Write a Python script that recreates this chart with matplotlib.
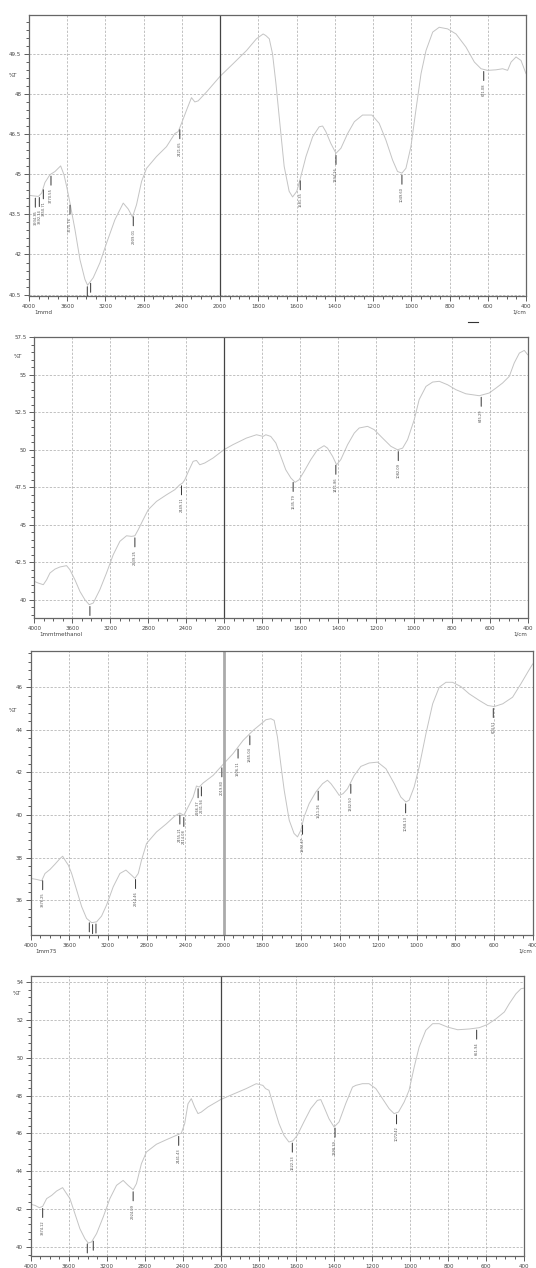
import matplotlib
matplotlib.use('Agg')
import matplotlib.pyplot as plt
from matplotlib.lines import Line2D
from matplotlib.ticker import FixedLocator, FuncFormatter
import numpy as np

# ---- spectrum 1 : 1mmd ----
wn1 = [4000, 3955, 3902, 3868, 3833, 3781, 3728, 3669, 3634, 3606, 3571, 3519, 3467, 3415, 3387,
       3328, 3258, 3188, 3101, 3014, 2962, 2917, 2875, 2822, 2770, 2666, 2561, 2474, 2439, 2404,
       2352, 2300, 2265, 2230, 2143, 2000, 1932, 1862, 1810, 1775, 1761, 1743, 1726, 1708, 1691,
       1665, 1639, 1621, 1599, 1578, 1551, 1516, 1482, 1464, 1447, 1421, 1394, 1368, 1333, 1298,
       1255, 1206, 1168, 1133, 1098, 1072, 1049, 1028, 1002, 976, 949, 923, 888, 854, 810,
       766, 714, 670, 635, 601, 557, 522, 496, 478, 452, 426, 400]
t1 = [44.21, 44.19, 44.17, 44.29, 44.69, 44.98, 45.10, 45.31, 44.98, 44.54, 43.92, 42.93, 41.81, 41.07, 40.85,
      41.13, 41.69, 42.43, 43.30, 43.92, 43.70, 43.40, 43.86, 44.73, 45.22, 45.66, 46.03, 46.52, 46.59, 46.90,
      47.39, 47.86, 47.70, 47.74, 48.07, 48.66, 49.13, 49.62, 50.06, 50.24, 50.18, 50.06, 49.50, 48.38, 47.14,
      45.29, 44.36, 44.15, 44.36, 44.91, 45.66, 46.40, 46.77, 46.80, 46.59, 46.15, 45.78, 45.97, 46.52, 46.96,
      47.21, 47.21, 46.90, 46.28, 45.53, 45.10, 45.04, 45.22, 46.03, 47.39, 48.76, 49.62, 50.31, 50.49, 50.43,
      50.24, 49.75, 49.19, 48.94, 48.88, 48.90, 48.94, 48.88, 49.19, 49.38, 49.25, 48.76]
pk1_wn = [3934, 3892, 3850, 3770, 3571, 3390, 3355, 2909, 2422, 1581, 1394, 1049, 621]
pk1_lbl = ['3934.35', '3892.14', '3850.71', '3770.55', '3570.76', '3390.42', '3355.10', '2909.01',
           '2421.65', '1581.35', '1394.16', '1049.60', '621.08']

# ---- spectrum 2 : 1mmtmethanol ----
wn2 = [4000, 3958, 3905, 3870, 3835, 3782, 3730, 3660, 3625, 3572, 3519, 3467, 3421, 3379, 3309,
       3239, 3168, 3098, 3028, 2975, 2940, 2905, 2853, 2800, 2712, 2607, 2519, 2467, 2438, 2414,
       2368, 2326, 2291, 2256, 2203, 2116, 2000, 1953, 1882, 1829, 1794, 1780, 1754, 1727, 1701,
       1675, 1648, 1626, 1605, 1578, 1543, 1508, 1473, 1455, 1428, 1407, 1385, 1349, 1314, 1288,
       1244, 1209, 1165, 1121, 1086, 1059, 1033, 998, 972, 936, 901, 866, 822, 778, 726,
       655, 603, 567, 532, 497, 471, 444, 418, 400]
t2 = [41.22, 41.11, 41.00, 41.33, 41.78, 42.04, 42.18, 42.27, 42.00, 41.33, 40.55, 40.00, 39.67, 39.78, 40.67,
      41.78, 43.00, 43.89, 44.26, 44.22, 44.26, 44.66, 45.33, 45.99, 46.55, 46.99, 47.33, 47.66, 47.77, 47.99,
      48.66, 49.22, 49.28, 48.99, 49.11, 49.44, 50.00, 50.33, 50.77, 50.99, 50.88, 50.99, 50.88, 50.44, 49.55,
      48.66, 48.11, 47.82, 47.99, 48.55, 49.33, 49.99, 50.26, 50.10, 49.55, 48.99, 49.33, 50.33, 51.10, 51.44,
      51.55, 51.33, 50.77, 50.22, 49.99, 50.10, 50.66, 51.99, 53.33, 54.21, 54.50, 54.55, 54.32, 53.99, 53.72,
      53.59, 53.77, 54.10, 54.44, 54.88, 55.77, 56.43, 56.61, 56.32]
pk2_wn = [3414, 2940, 2449, 1636, 1411, 1082, 645]
pk2_lbl = ['3414.38', '2939.25', '2449.11', '1635.79', '1411.86', '1082.09', '645.29']

# ---- spectrum 3 : 1mm75 ----
wn3 = [4000, 3938, 3886, 3852, 3800, 3748, 3697, 3669, 3645, 3610, 3576, 3524, 3472, 3421, 3369,
       3317, 3266, 3214, 3145, 3076, 3014, 2955, 2921, 2886, 2852, 2800, 2697, 2593, 2507, 2455,
       2414, 2369, 2317, 2283, 2255, 2214, 2110, 2000, 1952, 1900, 1848, 1796, 1782, 1756, 1739,
       1722, 1705, 1687, 1661, 1636, 1618, 1601, 1584, 1558, 1523, 1488, 1463, 1445, 1420, 1402,
       1382, 1359, 1324, 1290, 1247, 1203, 1160, 1117, 1083, 1057, 1040, 1014, 988, 953, 918,
       884, 849, 815, 772, 729, 677, 633, 599, 555, 504, 461, 426, 400]
t3 = [37.02, 36.97, 36.91, 37.25, 37.44, 37.69, 37.95, 38.06, 37.88, 37.64, 37.25, 36.47, 35.69, 35.14, 34.94,
      34.98, 35.25, 35.77, 36.63, 37.25, 37.41, 37.17, 37.02, 37.25, 37.88, 38.66, 39.20, 39.59, 39.95, 40.09,
      39.98, 40.38, 40.84, 41.36, 41.31, 41.50, 41.86, 42.41, 42.88, 43.50, 43.97, 44.36, 44.47, 44.52, 44.44,
      43.66, 42.41, 41.16, 39.75, 39.13, 38.97, 39.28, 39.91, 40.53, 41.08, 41.47, 41.63, 41.47, 41.16, 40.92,
      41.00, 41.23, 41.86, 42.28, 42.44, 42.48, 42.17, 41.47, 40.84, 40.61, 40.69, 41.31, 42.25, 43.81, 45.22,
      46.00, 46.23, 46.23, 46.03, 45.69, 45.38, 45.14, 45.09, 45.22, 45.53, 46.16, 46.70, 47.09]
pk3_wn = [3876, 3393, 3359, 3324, 2914, 2455, 2414, 2266, 2232, 2020, 1926, 1865, 1592, 1511, 1342, 1058, 604]
pk3_lbl = ['3876.25', '3393.07', '3358.92', '3324.18', '2914.46', '2455.21', '2414.08', '2266.37',
           '2231.94', '2019.80', '1926.11', '1865.04', '1592.47', '1511.26', '1342.50', '1058.13', '604.51']

# ---- spectrum 4 ----
wn4 = [4000, 3954, 3909, 3874, 3832, 3779, 3727, 3664, 3622, 3587, 3534, 3482, 3429, 3394, 3359,
       3306, 3236, 3166, 3096, 3026, 2974, 2921, 2886, 2834, 2781, 2676, 2571, 2466, 2413, 2378,
       2343, 2308, 2273, 2238, 2203, 2133, 2000, 1935, 1865, 1812, 1777, 1763, 1745, 1719, 1692,
       1666, 1640, 1619, 1596, 1561, 1525, 1490, 1472, 1455, 1429, 1402, 1376, 1341, 1305, 1288,
       1253, 1218, 1182, 1147, 1112, 1086, 1063, 1033, 1007, 980, 954, 919, 883, 848, 804,
       751, 690, 637, 593, 549, 505, 479, 444, 417, 400]
t4 = [42.26, 42.20, 42.08, 42.15, 42.56, 42.73, 42.96, 43.14, 42.82, 42.56, 41.76, 40.97, 40.44, 40.21, 40.27,
      40.71, 41.59, 42.56, 43.26, 43.52, 43.26, 43.03, 43.35, 44.40, 45.02, 45.43, 45.67, 45.90, 46.02, 46.52,
      47.57, 47.84, 47.40, 47.05, 47.13, 47.40, 47.79, 48.07, 48.37, 48.63, 48.54, 48.37, 48.28, 47.40, 46.52,
      45.90, 45.55, 45.61, 45.90, 46.61, 47.31, 47.75, 47.79, 47.40, 46.78, 46.34, 46.61, 47.57, 48.45, 48.54,
      48.63, 48.63, 48.37, 47.84, 47.31, 47.05, 47.13, 47.66, 48.28, 49.51, 50.57, 51.45, 51.80, 51.80, 51.62,
      51.48, 51.52, 51.59, 51.76, 52.06, 52.42, 52.86, 53.38, 53.65, 53.68]
pk4_wn = [3874, 3404, 3341, 2921, 2441, 1622, 1397, 1073, 651]
pk4_lbl = ['3874.12', '3404.36', '3340.71', '2924.09', '2441.43', '1622.13', '1398.39', '1072.42', '651.94']


# wavenumber axis: 2000-400 is drawn at twice the scale of 4000-2000
def fwd(w):
    w = np.asarray(w, float)
    return np.where(w >= 2000, w, 2 * w - 2000)


def inv(u):
    u = np.asarray(u, float)
    return np.where(u >= 2000, u, (u + 2000) / 2)


x_major = [4000, 3600, 3200, 2800, 2400, 2000, 1800, 1600, 1400, 1200, 1000, 800, 600, 400]
x_minor = [v for v in list(range(4000, 2000, -100)) + list(range(2000, 399, -50)) if v not in x_major]

fig = plt.figure(figsize=(5.36, 12.68), dpi=100)


def panel(rect, wn, t, ylim, ymaj, ystep, pk_wn, pk_lbl, left_txt, right_txt, pct_xy,
          sep_color='#444444', sep_lw=0.9):
    ax = fig.add_axes(rect)
    ax.set_xscale('function', functions=(fwd, inv))
    ax.set_xlim(4000, 400)
    ax.set_ylim(*ylim)
    ax.plot(wn, t, color='#c4c4c4', lw=0.7)

    ax.xaxis.set_major_locator(FixedLocator(x_major))
    ax.xaxis.set_minor_locator(FixedLocator(x_minor))
    ax.xaxis.set_major_formatter(FuncFormatter(lambda v, p: f'{v:.0f}'))
    ax.yaxis.set_major_locator(FixedLocator(ymaj))
    ax.yaxis.set_minor_locator(FixedLocator(np.arange(ymaj[0] - 3 * ystep, ylim[1], ystep)))
    ax.yaxis.set_major_formatter(FuncFormatter(lambda v, p: f'{v:g}'))
    ax.tick_params(which='both', direction='out', labelsize=4, colors='#444444', width=0.6)
    ax.tick_params(which='major', length=3.5, pad=2)
    ax.tick_params(which='minor', length=2)
    ax.grid(which='major', ls=(0, (3, 2)), color='#b0b0b0', lw=0.55)
    ax.axvline(2000, color=sep_color, lw=sep_lw)
    for s in ax.spines.values():
        s.set_color('#666666')
        s.set_linewidth(0.9)

    wa = np.array(wn)[::-1]
    ta = np.array(t)[::-1]
    for w, lbl in zip(pk_wn, pk_lbl):
        yc = np.interp(w, wa, ta)
        ax.annotate(lbl, xy=(w, yc), xytext=(0, -10), textcoords='offset points',
                    rotation=90, ha='center', va='top', fontsize=2.6, color='#555555',
                    clip_on=True,
                    arrowprops=dict(arrowstyle='-', color='#333333', lw=0.7,
                                    shrinkA=0, shrinkB=1.5, relpos=(0.5, 1)))

    ax.text(pct_xy[0], pct_xy[1], '%T', transform=ax.transAxes, fontsize=4,
            color='#444444', ha='center', va='center')
    if left_txt:
        ax.text(0.01, -0.058, left_txt, transform=ax.transAxes, fontsize=4,
                color='#444444', ha='left', va='center')
    if right_txt:
        ax.text(1.0, -0.058, right_txt, transform=ax.transAxes, fontsize=4,
                color='#444444', ha='right', va='center')
    return ax


panel([0.0541, 0.7666, 0.9272, 0.2216], wn1, t1, (40.45, 50.95),
      list(np.arange(40.5, 49.6, 1.5)), 0.3, pk1_wn, pk1_lbl, '1mmd', '1/cm', (-0.032, 0.786))
panel([0.0640, 0.5126, 0.9205, 0.2216], wn2, t2, (38.78, 57.5),
      list(np.arange(40, 57.6, 2.5)), 0.5, pk2_wn, pk2_lbl, '1mmtmethanol', '1/cm', (-0.033, 0.929))
panel([0.0573, 0.2626, 0.9365, 0.2240], wn3, t3, (34.36, 47.7),
      list(np.arange(36, 46.1, 2)), 0.4, pk3_wn, pk3_lbl, '1mm75', '1/cm', (-0.035, 0.792),
      sep_color='#aaaaaa', sep_lw=2.0)
panel([0.0573, 0.0095, 0.9209, 0.2208], wn4, t4, (39.53, 54.32),
      list(np.arange(40, 54.1, 2)), 0.4, pk4_wn, pk4_lbl, None, None, (-0.027, 0.939))

# small stray mark between the first two spectra
fig.add_artist(Line2D([468 / 536, 478 / 536], [1 - 322 / 1268] * 2, color='#333333', lw=0.8))

fig.savefig('out.png', dpi=100)
